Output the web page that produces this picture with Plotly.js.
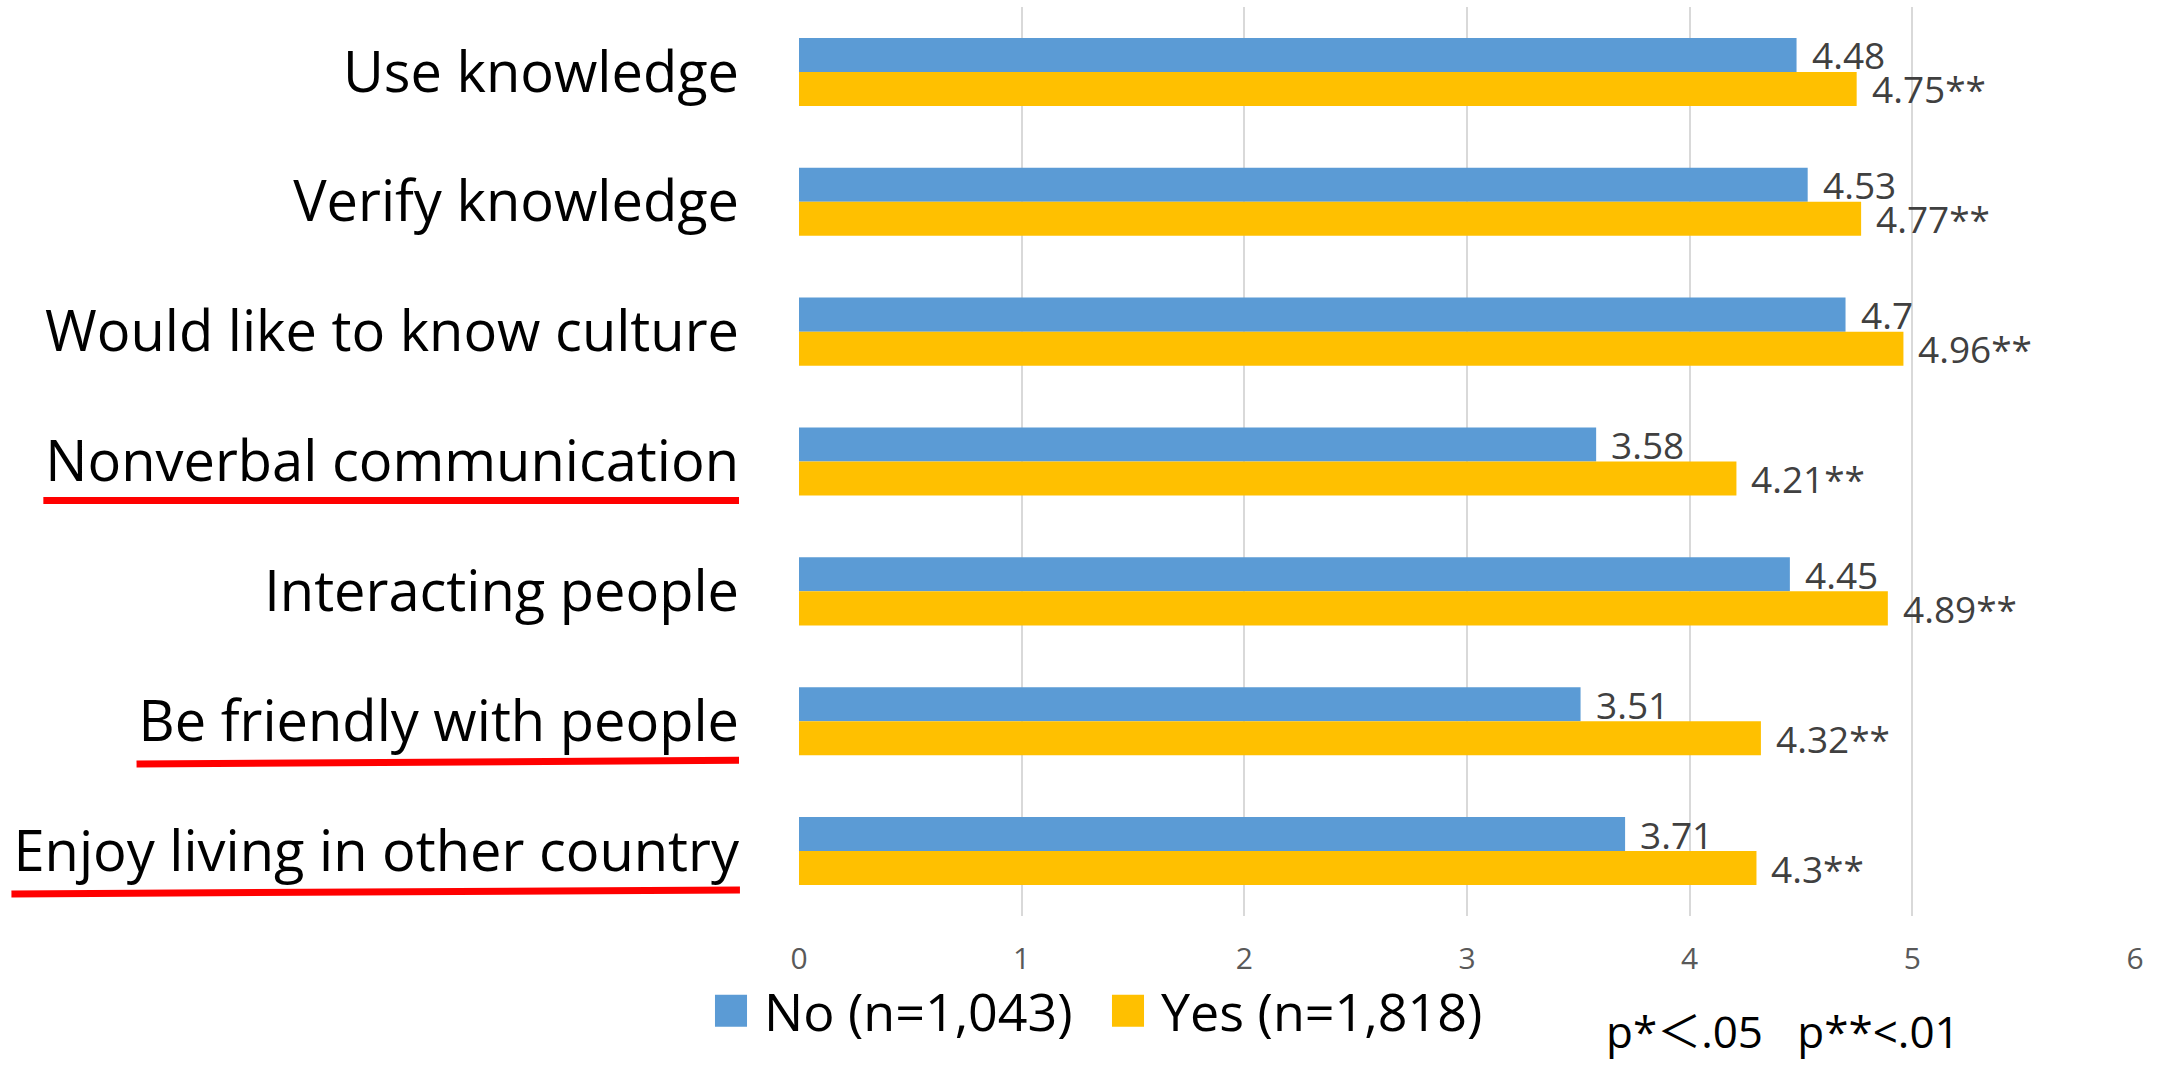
<!DOCTYPE html>
<html><head><meta charset="utf-8">
<script src="https://cdn.plot.ly/plotly-3.0.1.min.js"></script>
<style>html,body{margin:0;padding:0;background:#fff;}</style>
</head><body>
<div id="chart" style="width:2164px;height:1066px;"></div>
<script>
// ---------- data ----------
const categories = ["Use knowledge","Verify knowledge","Would like to know culture","Nonverbal communication","Interacting people","Be friendly with people","Enjoy living in other country"];
const noValues = [4.48, 4.53, 4.7, 3.58, 4.45, 3.51, 3.71];
const yesValues = [4.75, 4.77, 4.96, 4.21, 4.89, 4.32, 4.3];
const yesSignificance = ["**","**","**","**","**","**","**"];
const seriesNames = ["No (n=1,043)", "Yes (n=1,818)"];
const xTickValues = [0, 1, 2, 3, 4, 5, 6];
const underlinedCategories = ["Nonverbal communication","Be friendly with people","Enjoy living in other country"];
const footnoteParts = ["p*", "\uFF1C", ".05\u00a0\u00a0\u00a0p**<.01"];

// ---------- style ----------
const W = 2164, H = 1066;
const margin = {l: 799, r: 29, t: 7, b: 150, pad: 0};
const bargap = 0.476;
const plotW = W - margin.l - margin.r;
const plotH = H - margin.t - margin.b;
const barPx = plotH / categories.length * (1 - bargap) / 2;
const FONT = '"Open Sans", "Noto Sans", sans-serif';
const colors = ["#5B9BD5", "#FFC000"];
const labelFont = {family: FONT, size: 37, color: "#404040"};

const data = [
  {type: "bar", orientation: "h", name: seriesNames[0], y: categories, x: noValues,
   marker: {color: colors[0]}, hoverinfo: "none"},
  {type: "bar", orientation: "h", name: seriesNames[1], y: categories, x: yesValues,
   marker: {color: colors[1]}, hoverinfo: "none"}
];

const annotations = [];
categories.forEach((c, i) => {
  annotations.push({x: noValues[i], y: c, xref: "x", yref: "y", text: String(noValues[i]),
    showarrow: false, xanchor: "left", yanchor: "middle", xshift: 13, yshift: barPx / 2,
    font: labelFont});
  annotations.push({x: yesValues[i], y: c, xref: "x", yref: "y", text: String(yesValues[i]) + yesSignificance[i],
    showarrow: false, xanchor: "left", yanchor: "middle", xshift: 13, yshift: -barPx / 2,
    font: labelFont});
});
const footnote = footnoteParts[0] +
  '<span style="font-family:\'Noto Sans CJK JP\'">' + footnoteParts[1] + '</span>' + footnoteParts[2];
annotations.push({x: (1604 - margin.l) / plotW, y: -(1029 - (H - margin.b)) / plotH, xref: "paper", yref: "paper",
  xanchor: "left", yanchor: "middle", showarrow: false, text: footnote,
  font: {family: FONT, size: 44, color: "#000"}});

const layout = {
  width: W, height: H, margin: margin,
  paper_bgcolor: "#fff", plot_bgcolor: "#fff",
  barmode: "group", bargap: bargap, bargroupgap: 0,
  font: {family: FONT},
  xaxis: {range: [0, 6], tickvals: xTickValues, showgrid: true, gridcolor: "#d9d9d9", gridwidth: 2,
    zeroline: false, showline: false, ticks: "", ticklabelstandoff: 22,
    tickfont: {family: FONT, size: 30, color: "#595959"}, fixedrange: true},
  yaxis: {type: "category", autorange: "reversed", showgrid: false, zeroline: false, showline: false,
    ticks: "", ticklabelstandoff: 59, tickfont: {family: FONT, size: 56, color: "#000"}, fixedrange: true},
  showlegend: true,
  legend: {orientation: "h", x: (724 - margin.l) / plotW, xanchor: "left", y: -(1011 - (H - margin.b)) / plotH,
    yanchor: "middle", traceorder: "normal", font: {family: FONT, size: 52, color: "#000"},
    entrywidth: 352, entrywidthmode: "pixels", bgcolor: "rgba(0,0,0,0)"},
  annotations: annotations
};

function fixLegend(gd) {
  gd.querySelectorAll(".legend [clip-path]").forEach(e => e.removeAttribute("clip-path"));
  gd.querySelectorAll(".legend .legendpoints path").forEach(p => {
    p.setAttribute("transform", "translate(7,0) scale(2.67)");
  });
}

Plotly.newPlot("chart", data, layout, {staticPlot: true, displayModeBar: false}).then(gd => {
  const rootRect = gd.getBoundingClientRect();
  const shapes = [];
  gd.querySelectorAll(".yaxislayer-above .ytick text").forEach(t => {
    const label = t.textContent;
    if (underlinedCategories.indexOf(label) < 0) return;
    const idx = categories.indexOf(label);
    const r = t.getBoundingClientRect();
    const left = r.left - rootRect.left, right = r.right - rootRect.left;
    const tilt = idx === 3 ? 0 : 0.03;
    shapes.push({type: "line", xref: "paper", yref: "y",
      x0: (left - 2 - margin.l) / plotW, x1: (right - margin.l) / plotW,
      y0: idx + 0.30 + tilt, y1: idx + 0.30,
      line: {color: "#FF0000", width: 7}});
  });
  return Plotly.relayout(gd, {shapes: shapes});
}).then(() => fixLegend(document.getElementById("chart")));
</script>
</body></html>
